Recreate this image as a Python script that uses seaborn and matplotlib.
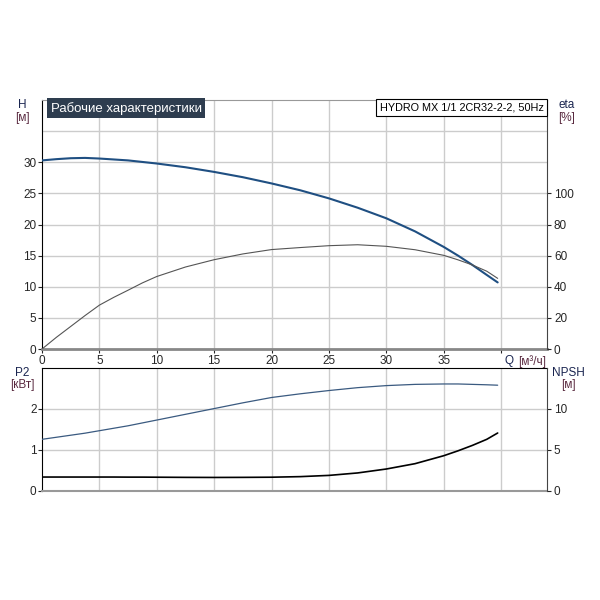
import matplotlib
matplotlib.use("Agg")
import matplotlib.pyplot as plt
import seaborn as sns
import pandas as pd

# ---- data ----
q_pts = [0, 1.25, 2.5, 3.75, 5, 6.25, 7.5, 8.75, 10, 12.5, 15, 17.5, 20, 22.5, 25, 27.5,
         30, 32.5, 35, 36.25, 37.5, 38.75, 39.7]
head_m = [30.3, 30.5, 30.65, 30.7, 30.6, 30.45, 30.3, 30.05, 29.8, 29.2, 28.45, 27.6, 26.6,
          25.5, 24.2, 22.7, 21.0, 18.9, 16.4, 15.0, 13.5, 11.9, 10.7]
eta_pct = [0, 7.5, 14.5, 21.5, 28.2, 33.2, 37.8, 42.5, 46.6, 52.7, 57.4, 61.1, 63.9, 65.2,
           66.4, 67.0, 66.0, 63.8, 60.2, 57.3, 54.0, 50.0, 45.4]
p2_kw = [1.26, 1.31, 1.36, 1.41, 1.47, 1.53, 1.59, 1.66, 1.73, 1.87, 2.01, 2.15, 2.28, 2.37,
         2.45, 2.52, 2.57, 2.60, 2.61, 2.61, 2.60, 2.59, 2.58]
npsh_m = [1.7, 1.7, 1.7, 1.7, 1.7, 1.7, 1.69, 1.69, 1.68, 1.66, 1.65, 1.66, 1.68, 1.75, 1.9,
          2.2, 2.68, 3.33, 4.3, 4.9, 5.56, 6.3, 7.07]

x_ticks = [0, 5, 10, 15, 20, 25, 30, 35, 40]
x_labels = ["0", "5", "10", "15", "20", "25", "30", "35", ""]
h_ticks = [0, 5, 10, 15, 20, 25, 30]
h_grid = [5, 10, 15, 20, 25, 30, 35]
eta_ticks = [0, 20, 40, 60, 80, 100]
p2_ticks = [0, 1, 2]
npsh_ticks = [0, 5, 10]

title_text = "Рабочие характеристики"
model_text = "HYDRO MX 1/1 2CR32-2-2, 50Hz"

df = pd.DataFrame({"Q": q_pts, "H": head_m, "eta": eta_pct, "P2": p2_kw, "NPSH": npsh_m})

sns.set_style("white")
plt.rcParams['font.family'] = ['Liberation Sans', 'DejaVu Sans']

fig = plt.figure(figsize=(6, 6), dpi=100)
ax1 = fig.add_axes([0.07, 0.4183, 0.8417, 0.415])
ax2 = fig.add_axes([0.07, 0.1817, 0.8417, 0.205])

grid_c = "#cccccc"
lab_c = "#1a2550"
unit_c = "#5a2a40"
fs = 8.5

# ---- top panel ----
ax1.set_xlim(0, 44)
ax1.set_ylim(0, 40)
for gx in x_ticks[1:]:
    ax1.axvline(gx, color=grid_c, lw=1, zorder=0)
for gy in h_grid:
    ax1.axhline(gy, color=grid_c, lw=1, zorder=0)
sns.lineplot(data=df, x="Q", y="H", ax=ax1, color="#1f4f82", lw=1.5, zorder=3)
ax1.set_xticks(x_ticks)
ax1.set_xticklabels(x_labels)
ax1.set_yticks(h_ticks)
ax1.set_xlabel("")
ax1.set_ylabel("")
ax1.tick_params(axis="both", labelsize=fs, length=3, width=0.8, direction="out",
                left=True, bottom=True, pad=1)
ax1.spines["left"].set_color("black")
ax1.spines["top"].set_color("#999999")
ax1.spines["bottom"].set_color("#888888")
ax1.spines["bottom"].set_linewidth(2)
ax1.spines["right"].set_visible(False)

ax1r = ax1.twinx()
ax1r.set_ylim(0, 160)
sns.lineplot(data=df, x="Q", y="eta", ax=ax1r, color="#555555", lw=0.8, zorder=2)
ax1r.set_yticks(eta_ticks)
ax1r.set_ylabel("")
ax1r.set_xlabel("")
ax1r.tick_params(axis="y", labelsize=fs, length=3, width=0.8, direction="out", right=True, pad=2)
for s in ["left", "top", "bottom"]:
    ax1r.spines[s].set_visible(False)
ax1r.spines["right"].set_color("#444444")
ax1r.set_xlim(0, 44)

ax1.text(0.017, 0.993, title_text, transform=ax1.transAxes, ha="left", va="top",
         fontsize=9.5, color="white", zorder=5,
         bbox=dict(boxstyle="square,pad=0.25", facecolor="#2e3d4f", edgecolor="none"))
ax1r.text(0.993, 0.99, model_text, transform=ax1r.transAxes, ha="right", va="top",
          fontsize=7.8, color="black", zorder=5,
          bbox=dict(boxstyle="square,pad=0.3", facecolor="white", edgecolor="black", lw=0.8))

fig.text(0.037, 0.825, "H", ha="center", va="center", fontsize=fs, color=lab_c)
fig.text(0.037, 0.804, "[м]", ha="center", va="center", fontsize=fs, color=unit_c)
fig.text(0.945, 0.825, "eta", ha="center", va="center", fontsize=fs, color=lab_c)
fig.text(0.945, 0.804, "[%]", ha="center", va="center", fontsize=fs, color=unit_c)
ax1.text(40.3, -1.0, "Q", ha="left", va="top", fontsize=fs, color=lab_c)
ax1.text(41.5, -1.0, "[м³/ч]", ha="left", va="top", fontsize=fs, color=unit_c)

# ---- bottom panel ----
ax2.set_xlim(0, 44)
ax2.set_ylim(0, 3)
for gx in x_ticks[1:]:
    ax2.axvline(gx, color=grid_c, lw=1, zorder=0)
for gy in [1, 2]:
    ax2.axhline(gy, color=grid_c, lw=1, zorder=0)
sns.lineplot(data=df, x="Q", y="P2", ax=ax2, color="#3a5a80", lw=0.9, zorder=3)
ax2.set_xticks(x_ticks)
ax2.set_xticklabels([])
ax2.set_yticks(p2_ticks)
ax2.set_xlabel("")
ax2.set_ylabel("")
ax2.tick_params(axis="y", labelsize=fs, length=3, width=0.8, direction="out", left=True, pad=1)
ax2.tick_params(axis="x", length=0)
ax2.spines["left"].set_color("black")
ax2.spines["top"].set_color("black")
ax2.spines["bottom"].set_color("#999999")
ax2.spines["bottom"].set_linewidth(1.5)
ax2.spines["right"].set_visible(False)

ax2r = ax2.twinx()
ax2r.set_ylim(0, 15)
sns.lineplot(data=df, x="Q", y="NPSH", ax=ax2r, color="black", lw=1.2, zorder=2)
ax2r.set_yticks(npsh_ticks)
ax2r.set_ylabel("")
ax2r.set_xlabel("")
ax2r.tick_params(axis="y", labelsize=fs, length=3, width=0.8, direction="out", right=True, pad=2)
for s in ["left", "top", "bottom"]:
    ax2r.spines[s].set_visible(False)
ax2r.spines["right"].set_color("#444444")
ax2r.set_xlim(0, 44)

fig.text(0.037, 0.378, "P2", ha="center", va="center", fontsize=fs, color=lab_c)
fig.text(0.037, 0.358, "[кВт]", ha="center", va="center", fontsize=fs, color=unit_c)
fig.text(0.948, 0.378, "NPSH", ha="center", va="center", fontsize=fs, color=lab_c)
fig.text(0.948, 0.358, "[м]", ha="center", va="center", fontsize=fs, color=unit_c)

fig.savefig("out.png", dpi=100, facecolor="white")
